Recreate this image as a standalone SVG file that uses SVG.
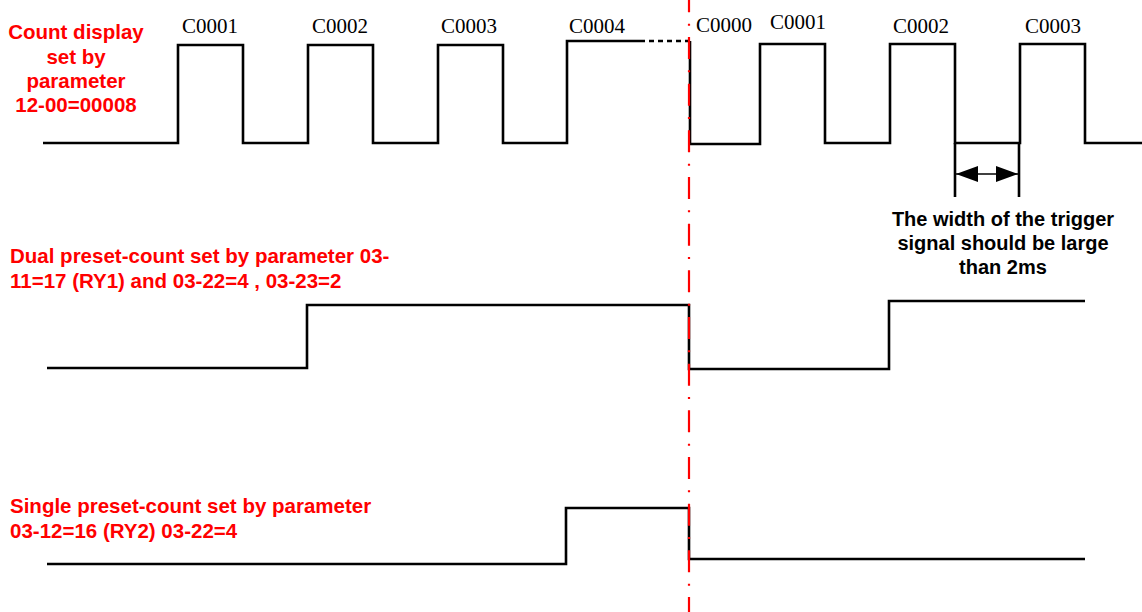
<svg xmlns="http://www.w3.org/2000/svg" width="1142" height="612" viewBox="0 0 1142 612">
<style>
.wave{fill:none;stroke:#000;stroke-width:2.6;stroke-linejoin:miter;stroke-linecap:butt}
.red{font-family:"Liberation Sans",Arial,sans-serif;font-weight:bold;font-size:20.5px;fill:#FF0000}
.blk{font-family:"Liberation Sans",Arial,sans-serif;font-weight:bold;font-size:20px;fill:#000}
.cnt{font-family:"Liberation Serif","Times New Roman",serif;font-size:21px;fill:#000}
</style>
<defs>
<marker id="ah" viewBox="0 0 22 16" refX="22" refY="8" markerWidth="22" markerHeight="16" markerUnits="userSpaceOnUse" orient="auto-start-reverse">
<path d="M0 0 L22 8 L0 16 Z" fill="#000"/>
</marker>
</defs>
<rect width="1142" height="612" fill="#fff"/>
<g id="labels">
<text class="red" text-anchor="middle" x="76" y="39">Count display</text>
<text class="red" text-anchor="middle" x="76" y="63.5">set by</text>
<text class="red" text-anchor="middle" x="76" y="88">parameter</text>
<text class="red" text-anchor="middle" x="76" y="112">12-00=00008</text>
<text class="red" x="10" y="263">Dual preset-count set by parameter 03-</text>
<text class="red" x="10" y="288">11=17 (RY1) and 03-22=4 , 03-23=2</text>
<text class="red" x="10" y="513">Single preset-count set by parameter</text>
<text class="red" x="10" y="538">03-12=16 (RY2) 03-22=4</text>
</g>
<g id="counts">
<text class="cnt" x="182" y="33">C0001</text>
<text class="cnt" x="312" y="33">C0002</text>
<text class="cnt" x="441" y="33">C0003</text>
<text class="cnt" x="569" y="33">C0004</text>
<text class="cnt" x="696" y="32">C0000</text>
<text class="cnt" x="770" y="29">C0001</text>
<text class="cnt" x="893" y="33">C0002</text>
<text class="cnt" x="1025" y="33">C0003</text>
</g>
<g id="count-wave">
<path class="wave" d="M43 143 H178 V45 H243 V143 H308 V45 H373 V143 H438 V45 H503 V143 H567 V41 H640"/>
<path d="M640 41 H688" fill="none" stroke="#000" stroke-width="2.6" stroke-dasharray="5 4"/>
<path class="wave" d="M690 41 V144 H760 V44 H825 V143 H890 V44 H955 V143 H1020 V44 H1085 V143 H1142"/>
</g>
<g id="dual-wave">
<path class="wave" d="M47 368 H307 V305 H689 V369 H889 V301 H1085"/>
</g>
<g id="single-wave">
<path class="wave" d="M47 564 H566 V508 H689 V559 H1085"/>
</g>
<g id="width-marker">
<path class="wave" d="M955 143 V197 M1019 143 V197"/>
<line x1="956" y1="174" x2="1018" y2="174" stroke="#000" stroke-width="1.5" marker-start="url(#ah)" marker-end="url(#ah)"/>
<text class="blk" text-anchor="middle" x="1003" y="226">The width of the trigger</text>
<text class="blk" text-anchor="middle" x="1003" y="250">signal should be large</text>
<text class="blk" text-anchor="middle" x="1003" y="274">than 2ms</text>
</g>
<g id="connectors">
<line x1="689" y1="0" x2="689" y2="612" stroke="#FF0000" stroke-width="2.2" stroke-dasharray="22 11.3 2 11.37" stroke-dashoffset="9.67"/>
</g>
</svg>
